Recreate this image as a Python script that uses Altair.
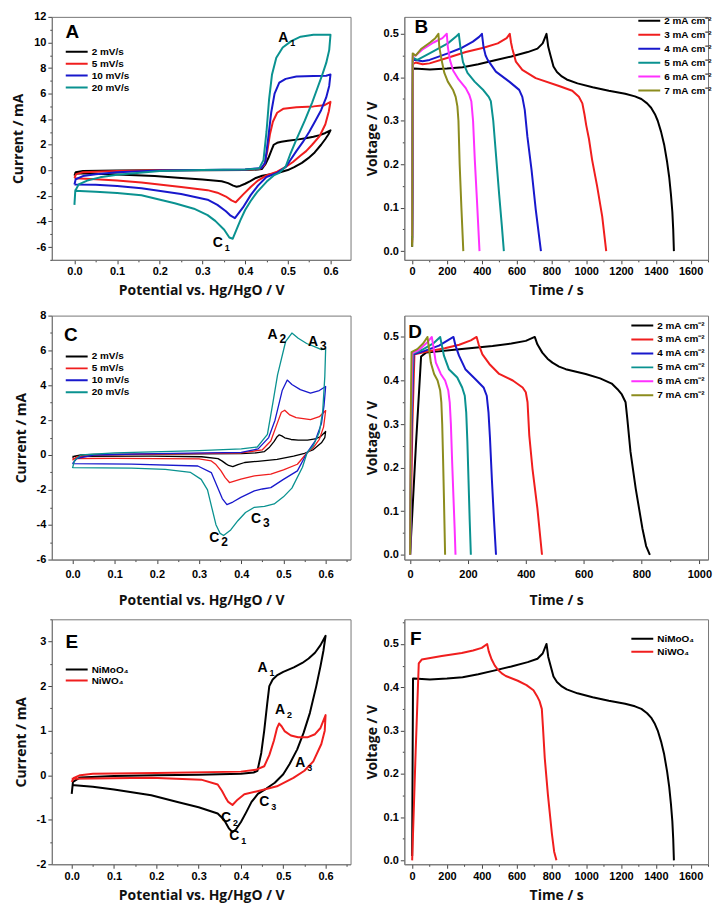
import altair as alt
import pandas as pd

# ---------------- colours ----------------
BLACK, RED, BLUE, TEAL, MAGENTA, OLIVE = "#000000", "#f01e1e", "#1818cc", "#0a9290", "#ff30ff", "#8c8c1e"

# ---------------- NiMoO4 CV (panel A) : forward / reverse scans ----------------
A2_F = [(0,-0.42),(0.003,-0.15),(0.02,-0.05),(0.1,-0.02),(0.2,0.0),(0.3,0.01),(0.4,0.03),(0.43,0.06),(0.439,0.1),(0.448,0.5),(0.455,1.0),(0.462,1.6),(0.467,2.0),(0.475,2.15),(0.485,2.24),(0.5,2.32),(0.525,2.42),(0.545,2.52),(0.56,2.62),(0.575,2.75),(0.588,2.92),(0.6,3.13)]
A2_R = [(0.6,3.13),(0.595,2.8),(0.588,2.45),(0.578,2.0),(0.563,1.4),(0.548,0.95),(0.533,0.58),(0.515,0.25),(0.5,0.02),(0.48,-0.17),(0.46,-0.3),(0.44,-0.42),(0.425,-0.6),(0.412,-0.84),(0.4,-1.05),(0.388,-1.22),(0.38,-1.28),(0.372,-1.2),(0.36,-1.0),(0.345,-0.86),(0.3,-0.72),(0.25,-0.6),(0.188,-0.45),(0.1,-0.32),(0.05,-0.26),(0,-0.22)]
A5_F = [(0,-0.6),(0.004,-0.3),(0.02,-0.15),(0.1,-0.05),(0.2,0.0),(0.3,0.03),(0.4,0.05),(0.435,0.12),(0.445,0.4),(0.452,1.5),(0.458,2.8),(0.465,3.8),(0.475,4.5),(0.49,4.82),(0.52,4.93),(0.56,5.0),(0.585,5.08),(0.6,5.35)]
A5_R = [(0.6,5.35),(0.596,4.6),(0.588,3.6),(0.575,2.7),(0.557,2.0),(0.543,1.5),(0.53,1.16),(0.512,0.65),(0.495,0.26),(0.475,-0.1),(0.45,-0.4),(0.43,-0.8),(0.413,-1.3),(0.395,-1.9),(0.378,-2.5),(0.368,-2.35),(0.355,-2.05),(0.335,-1.75),(0.312,-1.55),(0.25,-1.3),(0.157,-0.95),(0.1,-0.8),(0.05,-0.7),(0,-0.62)]
A10_F = [(0,-1.1),(0.003,-0.7),(0.02,-0.45),(0.05,-0.3),(0.1,-0.15),(0.2,-0.02),(0.3,0.03),(0.4,0.06),(0.438,0.18),(0.447,0.6),(0.454,2.5),(0.461,4.5),(0.469,6.0),(0.48,6.85),(0.495,7.15),(0.52,7.33),(0.56,7.38),(0.59,7.4),(0.6,7.5)]
A10_R = [(0.6,7.5),(0.597,6.6),(0.59,5.7),(0.578,4.7),(0.565,3.9),(0.55,3.0),(0.535,2.2),(0.52,1.5),(0.505,0.75),(0.495,0.26),(0.475,-0.2),(0.45,-0.52),(0.43,-1.2),(0.413,-1.94),(0.395,-2.9),(0.376,-3.74),(0.366,-3.55),(0.355,-3.2),(0.335,-2.7),(0.312,-2.3),(0.25,-1.85),(0.157,-1.4),(0.1,-1.22),(0.05,-1.13),(0,-1.1)]
A20_F = [(0,-2.7),(0.002,-1.6),(0.01,-1.1),(0.03,-0.8),(0.06,-0.55),(0.1,-0.35),(0.2,-0.05),(0.3,0.03),(0.4,0.06),(0.433,0.15),(0.443,0.8),(0.45,3.0),(0.456,5.5),(0.463,7.5),(0.473,8.8),(0.488,9.6),(0.508,10.1),(0.53,10.45),(0.56,10.6),(0.6,10.6)]
A20_R = [(0.6,10.6),(0.597,9.4),(0.59,8.4),(0.58,7.4),(0.568,6.3),(0.557,5.3),(0.54,3.9),(0.52,2.4),(0.505,1.2),(0.495,0.3),(0.48,-0.2),(0.467,-0.4),(0.45,-0.9),(0.428,-1.7),(0.413,-2.4),(0.4,-3.1),(0.389,-3.9),(0.379,-4.7),(0.371,-5.35),(0.363,-5.25),(0.351,-4.65),(0.33,-3.95),(0.312,-3.5),(0.28,-3.0),(0.235,-2.58),(0.157,-1.95),(0.1,-1.78),(0.05,-1.68),(0,-1.6)]

# ---------------- NiWO4 CV (panel C) ----------------
C2_F = [(0,-0.15),(0.005,-0.06),(0.02,0.0),(0.05,0.03),(0.2,0.05),(0.4,0.08),(0.435,0.12),(0.455,0.2),(0.467,0.45),(0.478,0.78),(0.485,1.05),(0.49,1.16),(0.496,1.1),(0.503,0.99),(0.518,0.89),(0.535,0.85),(0.557,0.85),(0.575,0.92),(0.588,1.06),(0.6,1.35)]
C2_R = [(0.6,1.35),(0.598,1.0),(0.59,0.7),(0.571,0.31),(0.55,0.1),(0.524,-0.06),(0.485,-0.25),(0.439,-0.36),(0.408,-0.43),(0.392,-0.55),(0.38,-0.67),(0.37,-0.6),(0.364,-0.51),(0.355,-0.35),(0.345,-0.21),(0.306,-0.1),(0.188,-0.06),(0,-0.08)]
C5_F = [(0,-0.3),(0.01,-0.1),(0.05,0.0),(0.2,0.05),(0.4,0.12),(0.45,0.3),(0.47,0.8),(0.485,1.8),(0.495,2.45),(0.503,2.57),(0.515,2.3),(0.53,2.15),(0.564,2.03),(0.585,2.2),(0.6,2.55)]
C5_R = [(0.6,2.55),(0.595,1.6),(0.585,0.9),(0.57,0.4),(0.556,0.13),(0.533,-0.53),(0.5,-0.85),(0.47,-1.1),(0.431,-1.2),(0.399,-1.39),(0.372,-1.58),(0.362,-1.3),(0.352,-0.91),(0.34,-0.55),(0.329,-0.34),(0.3,-0.22),(0.1,-0.19),(0,-0.2)]
C10_F = [(0,-0.5),(0.01,-0.2),(0.05,0.0),(0.2,0.08),(0.4,0.15),(0.44,0.35),(0.465,1.0),(0.48,2.0),(0.497,3.7),(0.509,4.3),(0.52,4.05),(0.54,3.75),(0.564,3.55),(0.585,3.7),(0.6,3.93)]
C10_R = [(0.6,3.93),(0.596,2.8),(0.59,1.8),(0.575,0.8),(0.556,0.13),(0.533,-0.91),(0.5,-1.4),(0.47,-1.87),(0.45,-1.95),(0.431,-2.06),(0.399,-2.43),(0.38,-2.7),(0.366,-2.85),(0.355,-2.5),(0.344,-1.87),(0.329,-1.01),(0.297,-0.63),(0.14,-0.52),(0,-0.5)]
C20_F = [(0,-0.75),(0.005,-0.3),(0.02,0.0),(0.1,0.12),(0.3,0.25),(0.4,0.35),(0.438,0.46),(0.462,1.18),(0.475,3.0),(0.486,4.6),(0.505,6.5),(0.52,7.0),(0.535,6.7),(0.555,6.4),(0.575,6.2),(0.59,6.05),(0.6,6.1)]
C20_R = [(0.6,6.1),(0.598,4.5),(0.593,2.5),(0.585,1.3),(0.57,0.5),(0.556,0.13),(0.545,-0.7),(0.52,-1.9),(0.5,-2.4),(0.478,-2.81),(0.455,-2.95),(0.431,-3.0),(0.41,-3.3),(0.392,-3.77),(0.375,-4.3),(0.358,-4.62),(0.35,-4.5),(0.34,-4.0),(0.33,-3.0),(0.32,-2.0),(0.305,-1.4),(0.28,-1.0),(0.22,-0.82),(0.14,-0.75),(0,-0.72)]

# ---------------- NiMoO4 GCD (panel B) : (time s, voltage V) ----------------
B2 = [(0,0.01),(5,0.42),(10,0.42),(102,0.418),(200,0.42),(290,0.423),(380,0.43),(476,0.439),(570,0.448),(664,0.458),(720,0.466),(750,0.478),(772,0.5),(782,0.47),(795,0.45),(812,0.425),(832,0.412),(860,0.402),(888,0.395),(950,0.386),(1037,0.377),(1130,0.369),(1224,0.362),(1280,0.356),(1317,0.35),(1350,0.34),(1373,0.33),(1395,0.315),(1411,0.3),(1430,0.275),(1448,0.245),(1465,0.205),(1477,0.17),(1487,0.13),(1495,0.09),(1500,0.05),(1504,0.0)]
B3 = [(0,0.02),(4,0.43),(20,0.434),(60,0.43),(100,0.432),(205,0.445),(308,0.458),(410,0.468),(492,0.478),(543,0.49),(561,0.5),(568,0.48),(576,0.465),(596,0.436),(633,0.417),(710,0.398),(844,0.38),(920,0.369),(958,0.355),(978,0.34),(990,0.315),(1000,0.29),(1016,0.258),(1034,0.21),(1063,0.149),(1092,0.08),(1115,0.0)]
B4 = [(0,0.025),(4,0.44),(20,0.44),(60,0.437),(100,0.44),(205,0.455),(287,0.468),(349,0.482),(385,0.493),(401,0.5),(410,0.47),(422,0.45),(434,0.44),(481,0.413),(558,0.39),(615,0.371),(633,0.355),(647,0.325),(662,0.264),(686,0.187),(710,0.096),(740,0.0)]
B5 = [(0,0.03),(4,0.445),(30,0.44),(100,0.455),(205,0.478),(256,0.495),(268,0.5),(277,0.47),(292,0.435),(318,0.41),(359,0.39),(410,0.37),(440,0.355),(452,0.345),(466,0.3),(482,0.22),(500,0.13),(515,0.06),(527,0.0)]
B6 = [(0,0.035),(4,0.45),(20,0.45),(62,0.465),(123,0.48),(174,0.49),(199,0.5),(205,0.47),(217,0.44),(236,0.415),(267,0.395),(308,0.375),(328,0.36),(340,0.345),(350,0.3),(360,0.21),(372,0.12),(387,0.0)]
B7 = [(0,0.01),(3,0.455),(20,0.45),(51,0.465),(103,0.48),(133,0.49),(151,0.5),(156,0.47),(169,0.44),(185,0.41),(205,0.39),(236,0.37),(250,0.355),(260,0.333),(266,0.3),(273,0.2),(283,0.1),(294,0.0)]

# ---------------- NiWO4 GCD (panel D) ----------------
D2 = [(0,0.0),(20,0.25),(38,0.455),(55,0.464),(170,0.472),(285,0.479),(350,0.485),(400,0.491),(431,0.5),(440,0.483),(457,0.464),(475,0.45),(492,0.441),(515,0.432),(538,0.426),(607,0.415),(657,0.405),(697,0.393),(717,0.38),(732,0.368),(745,0.35),(751,0.312),(762,0.236),(780,0.152),(803,0.061),(816,0.02),(829,0.0)]
D3 = [(0,0.0),(8,0.3),(15,0.46),(55,0.466),(120,0.474),(170,0.482),(210,0.492),(230,0.5),(237,0.483),(250,0.46),(274,0.438),(308,0.415),(355,0.4),(389,0.384),(400,0.373),(406,0.35),(412,0.274),(423,0.198),(440,0.107),(456,0.0)]
D4 = [(0,0.0),(5,0.3),(12,0.46),(50,0.468),(100,0.48),(150,0.5),(157,0.48),(169,0.457),(191,0.426),(226,0.403),(254,0.384),(265,0.365),(271,0.327),(276,0.27),(283,0.17),(290,0.08),(297,0.0)]
D5 = [(0,0.0),(4,0.3),(10,0.462),(40,0.47),(80,0.485),(104,0.5),(110,0.48),(117,0.457),(134,0.426),(163,0.407),(180,0.384),(189,0.365),(194,0.327),(198,0.26),(202,0.17),(206,0.08),(210,0.0)]
D6 = [(0,0.0),(3,0.3),(8,0.463),(30,0.47),(60,0.488),(75,0.5),(80,0.48),(89,0.441),(106,0.415),(121,0.4),(132,0.377),(137,0.35),(141,0.3),(145,0.22),(150,0.13),(154,0.06),(157,0.0)]
D7 = [(0,0.0),(2,0.3),(5,0.465),(25,0.472),(45,0.485),(60,0.5),(65,0.475),(72,0.44),(83,0.415),(95,0.4),(104,0.377),(108,0.35),(111,0.3),(114,0.22),(117,0.13),(121,0.0)]

# ---------------- names / labels ----------------
SCAN_NAMES = ["2 mV/s", "5 mV/s", "10 mV/s", "20 mV/s"]
CUR_NAMES = ["2 mA cm⁻²", "3 mA cm⁻²", "4 mA cm⁻²", "5 mA cm⁻²", "6 mA cm⁻²", "7 mA cm⁻²"]
MAT_NAMES = ["NiMoO₄", "NiWO₄"]

A_LABELS = [(0.4895, 10.36, "A", "1"), (0.336, -5.65, "C", "1")]
C_LABELS = [(0.474, 6.9, "A", "2"), (0.57, 6.5, "A", "3"), (0.336, -4.76, "C", "2"), (0.435, -3.68, "C", "3")]
E_LABELS = [(0.451, 2.41, "A", "1"), (0.4925, 1.47, "A", "2"), (0.54, 0.28, "A", "3"),
            (0.384, -1.37, "C", "1"), (0.365, -0.96, "C", "2"), (0.455, -0.61, "C", "3")]
LETTERS = {"A": (-0.005, 10.83), "B": (53, 0.515), "C": (-0.004, 6.9),
           "D": (17, 0.512), "E": (0.0, 3.0), "F": (21, 0.511)}

CV_TITLE_X = "Potential vs. Hg/HgO / V"
CV_TITLE_Y = "Current / mA"
GCD_TITLE_X = "Time / s"
GCD_TITLE_Y = "Voltage / V"

FONT = "Liberation Sans"
TFONT = "Open Sans"
FIX_MINUS = "replace(datum.label, '\u2212', '-')"


def frame(series):
    rows = []
    for name, pts in series:
        for i, (x, y) in enumerate(pts):
            rows.append({"s": name, "x": x, "y": y, "o": i})
    return pd.DataFrame(rows)


def panel(df, names, colors, xdom, ydom, xmaj, xmin, ymaj, ymin, xfmt, yfmt,
          xtitle, ytitle, ytp, xpad, w, h, sw, leg, labels, lab_size, sub_size, sub_dx, sub_dy, letter):
    xs = alt.Scale(domain=xdom, nice=False, zero=False)
    ys = alt.Scale(domain=ydom, nice=False, zero=False)
    lines = alt.Chart(df).mark_line(strokeWidth=sw, strokeJoin="round").encode(
        x=alt.X("x:Q", scale=xs, axis=alt.Axis(values=xmaj, format=xfmt, title=xtitle, orient="bottom",
                                               labelPadding=xpad[0], titlePadding=xpad[1],
                                               labelExpr=FIX_MINUS)),
        y=alt.Y("y:Q", scale=ys, axis=alt.Axis(values=ymaj, format=yfmt, title=ytitle, orient="left",
                                               titlePadding=ytp, labelExpr=FIX_MINUS)),
        color=alt.Color("s:N", scale=alt.Scale(domain=names, range=colors),
                        legend=alt.Legend(title=None, orient="none", legendX=leg[0], legendY=leg[1],
                                          symbolType="stroke", symbolSize=leg[2], symbolStrokeWidth=2,
                                          labelFont=FONT, labelFontWeight="bold", labelFontSize=leg[3],
                                          clipHeight=leg[4], rowPadding=0, padding=0, labelOffset=3)),
        order="o:Q",
    )
    minor = alt.Chart(df).mark_point(opacity=0).encode(
        x=alt.X("x:Q", scale=xs, axis=alt.Axis(values=xmin, labels=False, title=None, tickSize=2,
                                               domain=False, orient="bottom")),
        y=alt.Y("y:Q", scale=ys, axis=alt.Axis(values=ymin, labels=False, title=None, tickSize=2,
                                               domain=False, orient="left")),
    )
    layers = [minor, lines]
    if labels:
        ldf = pd.DataFrame(labels, columns=["x", "y", "m", "sub"])
        base = alt.Chart(ldf).encode(x=alt.X("x:Q", scale=xs, axis=None), y=alt.Y("y:Q", scale=ys, axis=None))
        layers.append(base.mark_text(font=FONT, fontWeight="bold", fontSize=lab_size, align="center",
                                     baseline="middle", color="black").encode(text="m:N"))
        layers.append(base.mark_text(font=FONT, fontWeight="bold", fontSize=sub_size, align="left",
                                     baseline="middle", dx=sub_dx, dy=sub_dy, color="black").encode(text="sub:N"))
    lx, ly = LETTERS[letter]
    letdf = pd.DataFrame([{"x": lx, "y": ly, "t": letter}])
    layers.append(alt.Chart(letdf).mark_text(font=FONT, fontWeight="bold", fontSize=19, align="center",
                                             baseline="middle", color="black").encode(
        x=alt.X("x:Q", scale=xs, axis=None), y=alt.Y("y:Q", scale=ys, axis=None), text="t:N"))
    return alt.layer(*layers).resolve_axis(x="independent", y="independent").properties(width=w, height=h)


def steps(a, b, s):
    out, v = [], a
    while v <= b + 1e-9:
        out.append(round(v, 4))
        v += s
    return out


cv_xmaj = steps(0, 0.6, 0.1)
cv_xmin = steps(0.05, 0.65, 0.1)
gcd_ymaj = steps(0, 0.5, 0.1)
gcd_ymin = steps(0.05, 0.55, 0.1)

dfA = frame([(SCAN_NAMES[0], A2_F + A2_R), (SCAN_NAMES[1], A5_F + A5_R),
             (SCAN_NAMES[2], A10_F + A10_R), (SCAN_NAMES[3], A20_F + A20_R)])
dfC = frame([(SCAN_NAMES[0], C2_F + C2_R), (SCAN_NAMES[1], C5_F + C5_R),
             (SCAN_NAMES[2], C10_F + C10_R), (SCAN_NAMES[3], C20_F + C20_R)])
dfE = frame([(MAT_NAMES[0], A2_F + A2_R), (MAT_NAMES[1], C2_F + C2_R)])
dfB = frame(list(zip(CUR_NAMES, [B2, B3, B4, B5, B6, B7])))
dfD = frame(list(zip(CUR_NAMES, [D2, D3, D4, D5, D6, D7])))
dfF = frame([(MAT_NAMES[0], B2), (MAT_NAMES[1], D2)])

cv_cols = [BLACK, RED, BLUE, TEAL]
gcd_cols = [BLACK, RED, BLUE, TEAL, MAGENTA, OLIVE]

pA = panel(dfA, SCAN_NAMES, cv_cols, [-0.053, 0.647], [-7, 12], cv_xmaj, cv_xmin,
           steps(-6, 12, 2), steps(-7, 11, 2), ".1f", "d", CV_TITLE_X, CV_TITLE_Y, 8, (2, 7), 300, 244, 2,
           (13, 29, 484, 10, 12), A_LABELS, 14, 9, 7, 5, "A")
pB = panel(dfB, CUR_NAMES, gcd_cols, [-45, 1700], [-0.02, 0.539], steps(0, 1600, 200), steps(100, 1700, 200),
           gcd_ymaj, gcd_ymin, "d", ".1f", GCD_TITLE_X, GCD_TITLE_Y, 4, (2, 7), 305, 244, 2,
           (234, -3, 484, 10, 14), None, 14, 9, 7, 5, "B")
pC = panel(dfC, SCAN_NAMES, cv_cols, [-0.049, 0.659], [-6, 8], cv_xmaj, cv_xmin,
           steps(-6, 8, 2), steps(-5, 7, 2), ".1f", "d", CV_TITLE_X, CV_TITLE_Y, 8, (5, 14), 300, 245, 1.3,
           (13, 35, 484, 10, 12), C_LABELS, 14, 12, 7, 4, "C")
pD = panel(dfD, CUR_NAMES, gcd_cols, [-20, 1030], [-0.011, 0.549], steps(0, 1000, 200), steps(100, 900, 200),
           gcd_ymaj, gcd_ymin, "d", ".1f", GCD_TITLE_X, GCD_TITLE_Y, 4, (5, 14), 305, 245, 2,
           (227, 3, 484, 10, 14), None, 14, 9, 7, 5, "D")
pE = panel(dfE, MAT_NAMES, [BLACK, RED], [-0.047, 0.659], [-2, 3.5], cv_xmaj, cv_xmin,
           steps(-2, 3, 1), steps(-1.5, 3.5, 1), ".1f", "d", CV_TITLE_X, CV_TITLE_Y, 8, (2, 7), 300, 246, 2,
           (13, 45, 484, 10, 11), E_LABELS, 14, 9, 7, 5, "E")
pF = panel(dfF, MAT_NAMES, [BLACK, RED], [-45, 1700], [-0.009, 0.557], steps(0, 1600, 200), steps(100, 1700, 200),
           gcd_ymaj, gcd_ymin, "d", ".1f", GCD_TITLE_X, GCD_TITLE_Y, 4, (2, 7), 305, 246, 2,
           (227, 13, 484, 10, 13), None, 14, 9, 7, 5, "F")

chart = alt.concat(pA, pB, pC, pD, pE, pF, columns=2, spacing={"row": 10, "column": 13}).resolve_scale(
    color="independent").configure_view(stroke="#777777", strokeWidth=1).configure_axis(
    labelFont=FONT, labelFontWeight="bold", labelFontSize=11, labelColor="black",
    titleFont=TFONT, titleFontWeight="bold", titleFontSize=14, titleColor="#111111",
    domainColor="#777777", tickColor="#444444", tickSize=4, grid=False).properties(
    padding={"left": 3, "top": 0, "right": 0, "bottom": 0})

chart.save("out.html", embed_options={"renderer": "svg", "actions": False})
